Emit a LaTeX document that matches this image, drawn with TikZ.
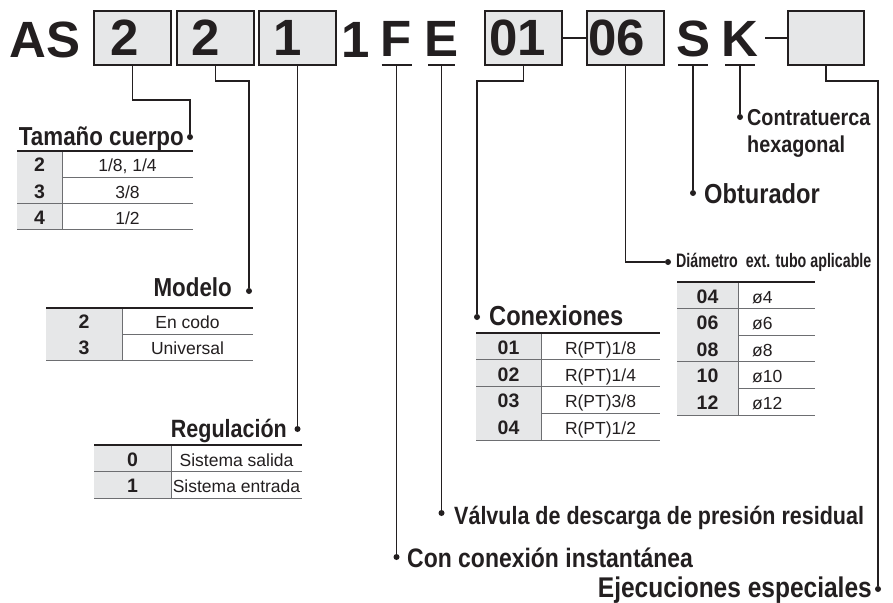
\documentclass[tikz,border=0pt]{standalone}
\usepackage{fontspec}
\setmainfont{Liberation Sans}
\newfontfamily\condfont[FakeStretch=0.86]{Liberation Sans}
\newfontfamily\narrowfont[FakeStretch=0.73]{Liberation Sans}
\usetikzlibrary{positioning}
\definecolor{Ink}{HTML}{231F20}
\definecolor{Cell}{HTML}{E6E7E8}
\definecolor{Rule}{HTML}{6D6E71}
\tikzset{
 big/.style={font=\bfseries\fontsize{51}{51}\selectfont,inner sep=0pt,text=Ink},
 codebox/.style={big,draw=Ink,fill=Cell,line width=1.5pt,minimum width=77pt,minimum height=54pt},
 letter/.style={big,anchor=south,text height=37pt,text depth=8pt},
 uline/.style={draw=Ink,line width=1.5pt},
 lead/.style={draw=Ink,line width=1.5pt},
 dot/.style={circle,fill=Ink,inner sep=0pt,minimum size=6pt},
 lbl/.style={font=\condfont\bfseries\fontsize{#1}{#1}\selectfont,inner sep=0pt,text=Ink},
 lbl/.default=26.5,
 code/.style={font=\bfseries\fontsize{19.5}{20}\selectfont,inner sep=0pt,text=Ink},
 val/.style={font=\fontsize{17.5}{18}\selectfont,inner sep=0pt,text=Ink},
 cellfill/.style={fill=Cell},
 rowline/.style={draw=Rule,line width=1pt},
 toprule/.style={draw=Ink,line width=2pt}
}
% left, top, divider, right, row height, value x, value anchor, rows
\newcommand{\codetable}[8]{%
 \foreach \cd/\vl [count=\i] in {#8} {
  \fill[cellfill] (#1,{#2+(\i-1)*#5}) rectangle (#3,{#2+\i*#5});
  \draw[rowline] (#3,{#2+(\i-1)*#5}) -- (#3,{#2+\i*#5});
  \draw[rowline] (#1,{#2+\i*#5}) -- (#4,{#2+\i*#5});
  \node[code,anchor=base] (c#2-\i) at ({(#1+#3)/2},{#2+\i*#5-5.5}) {\cd};
  \node[val,anchor=#7] (v#2-\i) at (#6,{#2+\i*#5-5.5}) {\vl};
 }
 \draw[toprule] (#1,#2) -- (#4,#2);
}

\begin{document}
\begin{tikzpicture}[x=1pt,y=-1pt]
\path[fill=white,use as bounding box] (0,0) rectangle (893,602);

% code line
\node[big,anchor=base west] (tAS) at (9,57) {AS};
\node[codebox] (b1) at (132.5,38) {\hspace*{-16pt}2};
\node[codebox] (b2) at (215.5,38) {\hspace*{-20pt}2};
\node[codebox] (b3) at (297.5,38) {\hspace*{-20pt}1};
\node[big,anchor=base] (t1) at (356,57) {1};
\node[letter] (cF) at (396.5,65) {F};
\node[letter] (cE) at (441.5,65) {E};
\node[codebox] (b01) at (523.5,38) {\hspace*{-12pt}01};
\node[codebox] (b06) at (625.5,38) {\hspace*{-18pt}06};
\node[letter] (cS) at (693,65) {S};
\node[letter] (cK) at (740,65) {K};
\node[codebox,minimum width=76pt] (bX) at (826,38) {};
\coordinate (kd) at (765,38);
\foreach \n in {cF,cS,cK}
 \draw[uline] ([xshift=-15pt]\n.south) -- ([xshift=15pt]\n.south);
\draw[uline] ([xshift=-13.5pt]cE.south) -- ([xshift=13.5pt]cE.south);
\draw[lead] (b01.east) -- (b06.west);
\draw[lead] (kd) -- (bX.west);

% dots
\node[dot] (dT) at (190,137) {};
\node[dot] (dM) at (249,291) {};
\node[dot] (dR) at (297.5,429) {};
\node[dot] (dC) at (396.5,557) {};
\node[dot] (dV) at (441.5,513) {};
\node[dot] (dCx) at (477,317) {};
\node[dot] (dD) at (668,262) {};
\node[dot] (dO) at (693,193) {};
\node[dot] (dK) at (740,117) {};
\node[dot] (dE) at (878,589) {};

% leaders
\draw[lead] (b1.south) -- ++(0,34) -| (dT);
\draw[lead] (b2.south) -- ++(0,15) -| (dM);
\draw[lead] (b3.south) -- (dR);
\draw[lead] (cF.south) -- (dC);
\draw[lead] (cE.south) -- (dV);
\draw[lead] (b01.south) -- ++(0,15) -| (dCx);
\draw[lead] (b06.south) |- (dD);
\draw[lead] (cS.south) -- (dO);
\draw[lead] (cK.south) -- (dK);
\draw[lead] (bX.south) -- ++(0,15) -| (dE);

% labels
\node[lbl=26,anchor=base east] (lT) at (184,145) {Tamaño cuerpo};
\node[lbl=26,anchor=base east] (lM) at (232,296) {Modelo};
\node[lbl=25,anchor=base east] (lR) at (287,437) {Regulación};
\node[lbl=27.5,anchor=base west] (lCx) at (489,325) {Conexiones};
\node[font=\narrowfont\bfseries\fontsize{19.5}{20}\selectfont,inner sep=0pt,text=Ink,anchor=base west] (lD) at (676,267) {Diámetro~ ext. tubo aplicable};
\node[lbl=27.5,anchor=base west] (lO) at (704,203) {Obturador};
\node[lbl=23,anchor=base west] (lK) at (747,125) {Contratuerca};
\node[lbl=23,anchor=base west] (lK2) at (747,152) {hexagonal};
\node[lbl=25,anchor=base west] (lV) at (454,524) {Válvula de descarga de presión residual};
\node[lbl=26.7,anchor=base west] (lC) at (407,567) {Con conexión instantánea};
\node[lbl=28.5,anchor=base east] (lE) at (872,597) {Ejecuciones especiales};

% tables
\codetable{17}{151}{62}{193}{26.3}{127.5}{base}{2/{1/8, 1/4},3/{3/8},4/{1/2}}
\codetable{46}{308}{122}{253}{26}{187.5}{base}{2/En codo,3/Universal}
\codetable{94}{445}{171}{302}{26.5}{236.5}{base}{0/Sistema salida,1/Sistema entrada}
\codetable{476}{333}{541}{660}{26.75}{600.5}{base}{01/{R(PT)1/8},02/{R(PT)1/4},03/{R(PT)3/8},04/{R(PT)1/2}}
\codetable{677}{282}{738}{815}{26.6}{752}{base west}{04/ø4,06/ø6,08/ø8,10/ø10,12/ø12}
\end{tikzpicture}
\end{document}
